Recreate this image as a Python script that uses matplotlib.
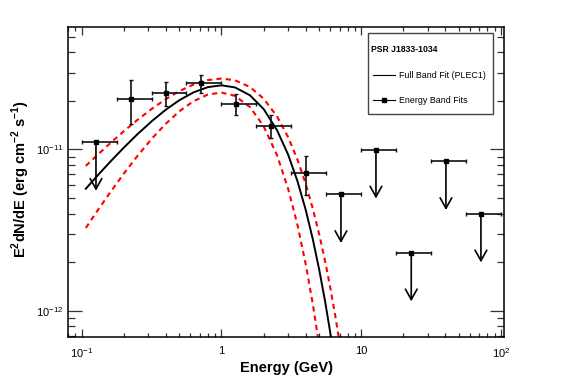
import matplotlib
matplotlib.use("Agg")
import matplotlib.pyplot as plt
from matplotlib.patches import Rectangle
from matplotlib.lines import Line2D
from matplotlib.ticker import NullFormatter, LogLocator

plt.rcParams['font.family'] = ['Liberation Sans', 'DejaVu Sans']
plt.rcParams['mathtext.fontset'] = 'custom'
plt.rcParams['mathtext.rm'] = 'Liberation Sans'
plt.rcParams['mathtext.bf'] = 'Liberation Sans:bold'

# energy bands (GeV), quarter-decade bins
band_lo = [0.1, 0.178, 0.316, 0.562, 1.0, 1.78, 3.16, 5.62, 10.0, 17.8, 31.6, 56.2]
band_hi = [0.178, 0.316, 0.562, 1.0, 1.78, 3.16, 5.62, 10.0, 17.8, 31.6, 56.2, 100.0]
band_e = [0.1265, 0.2263, 0.4029, 0.7135, 1.270, 2.261, 4.055, 7.157, 12.74, 22.79, 40.35, 71.8]
# E^2 dN/dE (erg cm^-2 s^-1); for upper limits this is the limit value
band_flux = [1.11e-11, 2.07e-11, 2.255e-11, 2.585e-11, 1.928e-11, 1.40e-11, 7.10e-12,
             5.26e-12, 9.94e-12, 2.288e-12, 8.43e-12, 3.99e-12]
band_err_hi = [None, 2.69e-11, 2.62e-11, 2.886e-11, 2.22e-11, 1.631e-11, 9.13e-12,
               None, None, None, None, None]
band_err_lo = [None, 1.449e-11, 1.862e-11, 2.255e-11, 1.648e-11, 1.170e-11, 5.21e-12,
               None, None, None, None, None]
is_ul = [True, False, False, False, False, False, False, True, True, True, True, True]

# full band fit (PLEC1) and its butterfly
fit_e = [0.107, 0.13, 0.16, 0.2, 0.25, 0.32, 0.4, 0.5, 0.63, 0.8, 1.0, 1.25, 1.6,
         2.0, 2.5, 3.0, 3.5, 4.0, 4.5, 5.0, 5.5, 6.0, 6.5, 7.0, 7.5]
fit_mid = [5.71e-12, 6.90e-12, 8.39e-12, 1.026e-11, 1.242e-11, 1.508e-11, 1.766e-11,
           2.022e-11, 2.259e-11, 2.437e-11, 2.50e-11, 2.427e-11, 2.167e-11, 1.784e-11,
           1.315e-11, 9.28e-12, 6.34e-12, 4.24e-12, 2.78e-12, 1.80e-12, 1.155e-12,
           7.33e-13, 4.62e-13, 2.9e-13, 1.8e-13]
fit_up = [7.91e-12, 9.27e-12, 1.094e-11, 1.297e-11, 1.524e-11, 1.797e-11, 2.053e-11,
          2.302e-11, 2.527e-11, 2.696e-11, 2.754e-11, 2.686e-11, 2.440e-11, 2.070e-11,
          1.600e-11, 1.191e-11, 8.63e-12, 6.14e-12, 4.30e-12, 2.98e-12, 2.05e-12,
          1.394e-12, 9.43e-13, 6.35e-13, 4.25e-13]
fit_dn = [3.26e-12, 4.19e-12, 5.42e-12, 7.08e-12, 9.10e-12, 1.176e-11, 1.446e-11,
          1.726e-11, 1.992e-11, 2.193e-11, 2.254e-11, 2.151e-11, 1.831e-11, 1.397e-11,
          9.19e-12, 5.69e-12, 3.39e-12, 1.954e-12, 1.102e-12, 6.10e-13, 3.33e-13,
          1.8e-13, 9.0e-14, 4.5e-14, 2.2e-14]

fig = plt.figure(figsize=(5.67, 3.84), dpi=100)
ax = fig.add_axes([68 / 567, 1 - 337 / 384, 436 / 567, 310 / 384])
ax.set_xscale('log')
ax.set_yscale('log')
ax.set_xlim(0.0798, 105)
ax.set_ylim(6.87e-13, 5.75e-11)

ax.plot(fit_e, fit_up, color='#ff0000', lw=1.5, ls=(0, (2.5, 2)))
ax.plot(fit_e, fit_dn, color='#ff0000', lw=1.5, ls=(0, (2.5, 2)))
ax.plot(fit_e, fit_mid, color='black', lw=1.4)

for i in range(len(band_e)):
    e = band_e[i]
    f = band_flux[i]
    xerr = [[e - band_lo[i]], [band_hi[i] - e]]
    if is_ul[i]:
        ax.errorbar([e], [f], xerr=xerr, fmt='s', ms=2.5, color='black',
                    ecolor='#111111', elinewidth=1.2, capsize=1.3, capthick=1.0)
        ax.annotate('', xy=(e, f * 0.5), xytext=(e, f),
                    arrowprops=dict(arrowstyle='->,head_length=0.75,head_width=0.42',
                                    lw=1.2, color='black', shrinkA=0, shrinkB=0))
    else:
        yerr = [[f - band_err_lo[i]], [band_err_hi[i] - f]]
        ax.errorbar([e], [f], xerr=xerr, yerr=yerr, fmt='s', ms=2.5, color='black',
                    ecolor='#111111', elinewidth=1.2, capsize=1.3, capthick=1.0)

ax.set_xticks([0.1, 1, 10, 100], labels=['$10^{-1}$', '1', '10', '$10^{2}$'])
ax.set_yticks([1e-12, 1e-11], labels=['$10^{-12}$', '$10^{-11}$'])
ax.xaxis.set_minor_locator(LogLocator(base=10, subs=range(2, 10), numticks=20))
ax.yaxis.set_minor_locator(LogLocator(base=10, subs=range(2, 10), numticks=20))
ax.xaxis.set_minor_formatter(NullFormatter())
ax.yaxis.set_minor_formatter(NullFormatter())
ax.tick_params(which='both', direction='in', top=True, right=True, width=0.9,
               color='#333333', labelsize=8)
ax.tick_params(axis='x', which='major', length=5.5, pad=6.5)
ax.tick_params(axis='x', which='minor', length=2.9)
ax.tick_params(axis='y', which='major', length=9.9, pad=3.5)
ax.tick_params(axis='y', which='minor', length=4.8)
for s in ax.spines.values():
    s.set_linewidth(1.1)

ax.set_xlabel('Energy (GeV)', fontsize=10.5, fontweight='bold')
ax.xaxis.set_label_coords(0.5, -0.078)
ax.xaxis.label.set_va('top')
ax.set_ylabel(r'E$^{\mathbf{2}}$dN/dE (erg cm$^{\mathbf{-2}}$ s$^{\mathbf{-1}}$)',
              fontsize=10.5, fontweight='bold')
ax.yaxis.set_label_coords(-0.0826, 0.51)

# legend box
ax.add_patch(Rectangle((0.689, 0.7184), 0.2865, 0.2616, transform=ax.transAxes,
                       facecolor='white', edgecolor='#444444', lw=1.0, zorder=5))
ax.text(0.695, 0.929, 'PSR J1833-1034', transform=ax.transAxes, fontsize=6.2,
        fontweight='bold', va='center', ha='left', zorder=6)
ax.add_line(Line2D([0.700, 0.750], [0.845, 0.845], transform=ax.transAxes,
                   color='black', lw=0.8, zorder=6))
ax.text(0.760, 0.845, 'Full Band Fit (PLEC1)', transform=ax.transAxes, fontsize=6.4,
        va='center', ha='left', zorder=6)
ax.add_line(Line2D([0.700, 0.750], [0.7645, 0.7645], transform=ax.transAxes,
                   color='black', lw=0.8, zorder=6))
ax.add_line(Line2D([0.725], [0.7645], transform=ax.transAxes, marker='s', ms=3.5,
                   color='black', zorder=7))
ax.text(0.760, 0.7645, 'Energy Band Fits', transform=ax.transAxes, fontsize=6.4,
        va='center', ha='left', zorder=6)

fig.savefig('out.png', dpi=100)
